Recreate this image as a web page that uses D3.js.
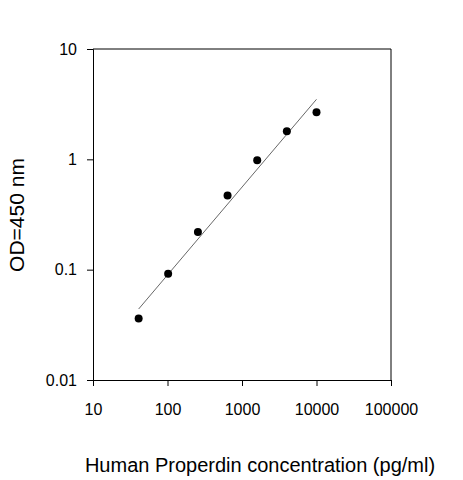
<!DOCTYPE html>
<html><head><meta charset="utf-8">
<script src="https://cdn.jsdelivr.net/npm/d3@7"></script>
<style>body{margin:0;background:#fff}</style></head>
<body><svg id="c" width="463" height="480"></svg>
<script>
const concentrations=[41,102,256,640,1600,4000,10000];
const odValues=[0.036,0.092,0.22,0.47,0.98,1.8,2.67];
const fitX=[41,10000];
const fitY=[0.044,3.5];
const xTicks=[10,100,1000,10000,100000];
const yTicks=[0.01,0.1,1,10];
const svg=d3.select("#c");
const x=d3.scaleLog().domain([10,100000]).range([93,391]);
const y=d3.scaleLog().domain([0.01,10]).range([380,49]);
const font="Liberation Sans, Arial, sans-serif";
const fmt=d=>String(d);
const gx=svg.append("g").attr("transform","translate(0,380)").call(d3.axisBottom(x).tickValues(xTicks).tickFormat(fmt).tickSize(6).tickPadding(18));
const gy=svg.append("g").attr("transform","translate(93,0)").call(d3.axisLeft(y).tickValues(yTicks).tickFormat(fmt).tickSize(6).tickPadding(10));
[gx,gy].forEach(g=>{g.selectAll("text").style("font-family",font).style("font-size","16px").attr("fill","#000");g.selectAll("line,path").attr("stroke","#000");});
svg.append("line").attr("x1",93).attr("x2",391).attr("y1",49).attr("y2",49).attr("stroke","#000");
svg.append("line").attr("x1",391).attr("x2",391).attr("y1",49).attr("y2",380).attr("stroke","#000");
svg.append("line").attr("x1",x(fitX[0])).attr("y1",y(fitY[0])).attr("x2",x(fitX[1])).attr("y2",y(fitY[1])).attr("stroke","#000").attr("stroke-width",0.6);
svg.selectAll("circle.p").data(concentrations).enter().append("circle").attr("cx",d=>x(d)).attr("cy",(d,i)=>y(odValues[i])).attr("r",4).attr("fill","#000");
svg.append("text").attr("x",260).attr("y",472).attr("text-anchor","middle").style("font-family",font).style("font-size","20px").text("Human Properdin concentration (pg/ml)");
svg.append("text").attr("transform","translate(24,215) rotate(-90)").attr("text-anchor","middle").style("font-family",font).style("font-size","21px").text("OD=450 nm");
</script></body></html>
